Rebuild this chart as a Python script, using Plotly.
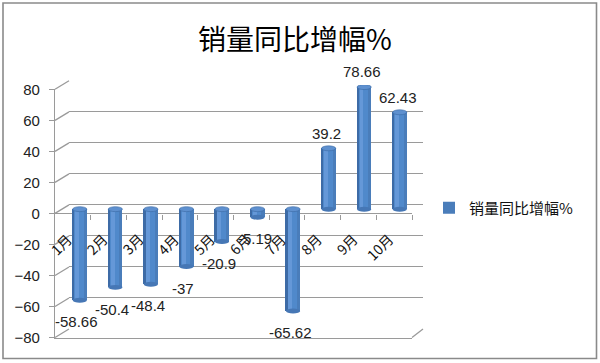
import plotly.graph_objects as go

categories = ["1月", "2月", "3月", "4月", "5月", "6月", "7月", "8月", "9月", "10月"]
values = [-58.66, -50.4, -48.4, -37, -20.9, -5.19, -65.62, 39.2, 78.66, 62.43]
series_name = "销量同比增幅%"
title_text = "销量同比增幅%"
y_ticks = [-80, -60, -40, -20, 0, 20, 40, 60, 80]

W, H = 600, 363
# pixel geometry of the pseudo-3D box
FL, FR, FT, FB = 55, 412, 89.3, 337.5      # front plane
BL, BR, BT, BB = 69, 423, 80.8, 329.0      # back wall
ML, MR, MT, MB = 62, 417.5, 85.0, 333.3    # bar (middle) plane

def px(x):
    return x / W

def py(y):
    return 1 - y / H

GRID = "#9a9a9a"
FONT = "Liberation Sans, Noto Sans CJK SC, sans-serif"
CJK = "Noto Sans CJK SC, sans-serif"
n = len(categories)
xs = list(range(n))

fig = go.Figure()

# cylinder body, built from overlaid bars for a shaded look
fig.add_trace(go.Bar(x=xs, y=values, width=0.4, marker=dict(color="#4A7DBA", line=dict(width=0)),
                     name=series_name, xaxis="x3", yaxis="y3", showlegend=True))
fig.add_trace(go.Bar(x=xs, y=values, width=0.30, offset=-0.19, marker=dict(color="#5089CB", line=dict(width=0)),
                     xaxis="x3", yaxis="y3", showlegend=False, hoverinfo="skip"))
fig.add_trace(go.Bar(x=xs, y=values, width=0.11, offset=-0.13, marker=dict(color="#6598D8", line=dict(width=0)),
                     xaxis="x3", yaxis="y3", showlegend=False, hoverinfo="skip"))
fig.add_trace(go.Bar(x=xs, y=values, width=0.05, offset=-0.2, marker=dict(color="#3D6BA6", line=dict(width=0)),
                     xaxis="x3", yaxis="y3", showlegend=False, hoverinfo="skip"))

shapes = []
ry = 1.6
for i, v in enumerate(values):
    lo, hi = min(0, v), max(0, v)
    shapes.append(dict(type="circle", xref="x3", yref="y3", x0=i - 0.2, x1=i + 0.2, y0=lo - ry, y1=lo + ry,
                       fillcolor="#4677B5", line=dict(width=0), layer="above"))
    shapes.append(dict(type="circle", xref="x3", yref="y3", x0=i - 0.2, x1=i + 0.2, y0=hi - ry, y1=hi + ry,
                       fillcolor="#5E90CF", line=dict(width=0.6, color="#3A69A5"), layer="above"))

# diagonal connectors front -> back wall
def yf(v):
    return FB - (v + 80) / 160 * (FB - FT)

def yb(v):
    return BB - (v + 80) / 160 * (BB - BT)

for v in y_ticks:
    shapes.append(dict(type="line", xref="paper", yref="paper", x0=px(FL), y0=py(yf(v)), x1=px(BL), y1=py(yb(v)),
                       line=dict(color=GRID, width=1.3), layer="below"))
shapes.append(dict(type="line", xref="paper", yref="paper", x0=px(FR), y0=py(FB), x1=px(BR), y1=py(BB),
                   line=dict(color=GRID, width=1.3), layer="below"))
# outer border
shapes.append(dict(type="rect", xref="paper", yref="paper", x0=px(3), y0=py(358.5), x1=px(596.5), y1=py(3),
                   line=dict(color="#8a8a8a", width=1.6), layer="below"))

annotations = []
for i, c in enumerate(categories):
    annotations.append(dict(x=i, y=0, xref="x", yref="y", text=c, showarrow=False, textangle=-45,
                            xanchor="right", yanchor="top", xshift=6, yshift=-13,
                            font=dict(family=CJK, size=14, color="#111")))
for i, v in enumerate(values):
    if v < 0:
        annotations.append(dict(x=i, y=v, xref="x3", yref="y", text=f"{v:g}", showarrow=False,
                                yanchor="top", yshift=-7, xshift=-3, font=dict(family=FONT, size=15, color="#222")))
    else:
        annotations.append(dict(x=i, y=v, xref="x3", yref="y", text=f"{v:g}", showarrow=False,
                                yanchor="bottom", yshift=9, xshift=-2, font=dict(family=FONT, size=15, color="#222")))
annotations.append(dict(x=px(295), y=py(38), xref="paper", yref="paper", text=title_text, showarrow=False,
                        xanchor="center", yanchor="middle",
                        font=dict(family=CJK, size=28, color="#000")))

hidden = dict(showgrid=False, zeroline=False, showticklabels=False, ticks="", showline=False)

fig.update_layout(
    width=W, height=H, margin=dict(l=0, r=0, t=0, b=0, autoexpand=False),
    paper_bgcolor="white", plot_bgcolor="rgba(0,0,0,0)",
    barmode="overlay", bargap=0,
    showlegend=True,
    legend=dict(x=px(429), y=py(208), xanchor="left", yanchor="middle",
                font=dict(family=CJK, size=15, color="#111"), bgcolor="rgba(0,0,0,0)"),
    # front plane: y labels, floor front edge
    xaxis=dict(domain=[px(FL), px(FR)], range=[-0.5, n - 0.5], anchor="y", showgrid=False, zeroline=False,
               showticklabels=False, ticks="", showline=True, linecolor=GRID, linewidth=1.3, automargin=False),
    yaxis=dict(domain=[py(FB), py(FT)], range=[-80, 80], anchor="x", tickvals=y_ticks, showgrid=False,
               zeroline=False, showline=True, linecolor=GRID, linewidth=1.3, ticks="outside", ticklen=5,
               tickcolor=GRID, ticklabelstandoff=6, automargin=False,
               tickfont=dict(family=FONT, size=15, color="#222")),
    # category axis line at zero with boundary ticks
    xaxis4=dict(domain=[px(FL), px(FR)], range=[-0.5, n - 0.5], anchor="free", position=py(yf(0)),
                overlaying="x", showgrid=False, zeroline=False, showticklabels=False, automargin=False,
                tickvals=[k + 0.5 for k in range(n)], ticks="outside", ticklen=5, tickcolor=GRID,
                showline=True, linecolor=GRID, linewidth=1.3),
    # back wall gridlines
    xaxis2=dict(domain=[px(BL), px(BR)], range=[-0.5, n - 0.5], anchor="y2", automargin=False, **hidden),
    yaxis2=dict(domain=[py(BB), py(BT)], range=[-80, 80], anchor="x2", tickvals=y_ticks, showgrid=True,
                gridcolor=GRID, gridwidth=1.3, zeroline=False, showticklabels=False, ticks="", showline=False,
                automargin=False),
    # bar plane
    xaxis3=dict(domain=[px(ML), px(MR)], range=[-0.5, n - 0.5], anchor="y3", automargin=False, **hidden),
    yaxis3=dict(domain=[py(MB), py(MT)], range=[-80, 80], anchor="x3", automargin=False, **hidden),
    shapes=shapes,
    annotations=annotations,
)

# dummy traces so the helper axes get drawn
fig.add_trace(go.Scatter(x=[None], y=[None], xaxis="x2", yaxis="y2", showlegend=False, hoverinfo="skip"))
fig.add_trace(go.Scatter(x=[None], y=[None], xaxis="x4", yaxis="y", showlegend=False, hoverinfo="skip"))

fig.write_html("out.html", config={"displayModeBar": False},
               post_script="document.body.style.margin='0';document.body.style.padding='0';")
